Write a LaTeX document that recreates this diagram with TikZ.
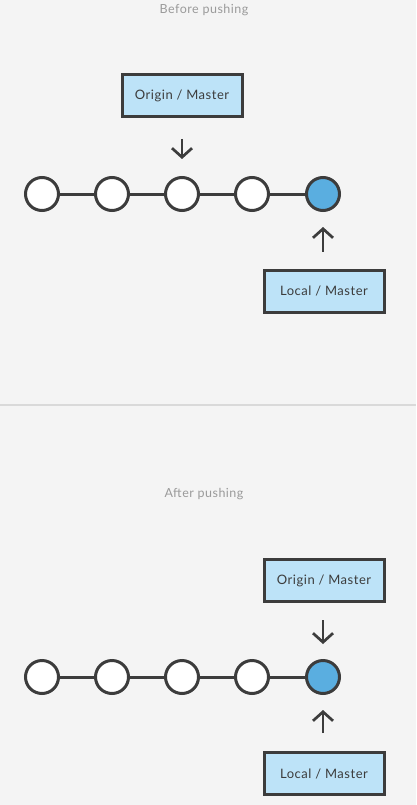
\documentclass[tikz,border=0pt]{standalone}
\usepackage{fontspec}
\setmainfont{Lato}[LetterSpace=4]
\usetikzlibrary{arrows.meta}
\definecolor{bg}{HTML}{F4F4F4}
\definecolor{ink}{HTML}{3C3C3C}
\definecolor{boxfill}{HTML}{BDE3F8}
\definecolor{headfill}{HTML}{5AAEE0}
\definecolor{titlegray}{HTML}{9A9A9A}
\definecolor{rule}{HTML}{D9D9D9}
\tikzset{
  commit/.style={circle,draw=ink,fill=white,line width=3pt,minimum size=33pt,inner sep=0pt},
  headcommit/.style={commit,fill=headfill},
  branchbox/.style={rectangle,draw=ink,fill=boxfill,line width=3pt,minimum width=120pt,minimum height=42pt,inner sep=0pt,font=\fontsize{13pt}{15pt}\selectfont,text=ink},
  link/.style={draw=ink,line width=3pt},
  pointer/.style={draw=ink,line width=2.7pt,-{Straight Barb[length=9pt,width=20pt]}},
  title/.style={font=\fontsize{12.5pt}{14pt}\selectfont,text=titlegray}
}
\begin{document}
\begin{tikzpicture}[x=1pt,y=-1pt]
\fill[bg] (0,0) rectangle (416,805);
\useasboundingbox (0,0) rectangle (416,805);
\draw[rule,line width=1.5pt] (0,405) -- (416,405);
% before
\node[title] (t1) at (204,10) {Before pushing};
\foreach \i/\x in {1/42,2/112,3/182,4/252}{\node[commit] (c\i) at (\x,194) {};}
\node[headcommit] (c5) at (323,194) {};
\draw[link] (c1) -- (c2) (c2) -- (c3) (c3) -- (c4) (c4) -- (c5);
\node[branchbox] (o1) at (182,95.5) {Origin / Master};
\node[branchbox] (l1) at (324,291) {Local / Master};
\draw[pointer,shorten <=21pt,shorten >=17pt] (o1) -- (c3);
\draw[pointer,shorten <=17pt,shorten >=15pt] (l1.north -| c5) -- (c5);
% after
\node[title] (t2) at (204,494) {After pushing};
\foreach \i/\x in {1/42,2/112,3/182,4/252}{\node[commit] (d\i) at (\x,677) {};}
\node[headcommit] (d5) at (323,677) {};
\draw[link] (d1) -- (d2) (d2) -- (d3) (d3) -- (d4) (d4) -- (d5);
\node[branchbox] (o2) at (324,580.5) {Origin / Master};
\node[branchbox] (l2) at (324,773.5) {Local / Master};
\draw[pointer,shorten <=17pt,shorten >=15pt] (o2.south -| d5) -- (d5);
\draw[pointer,shorten <=18pt,shorten >=15pt] (l2.north -| d5) -- (d5);
\end{tikzpicture}
\end{document}
